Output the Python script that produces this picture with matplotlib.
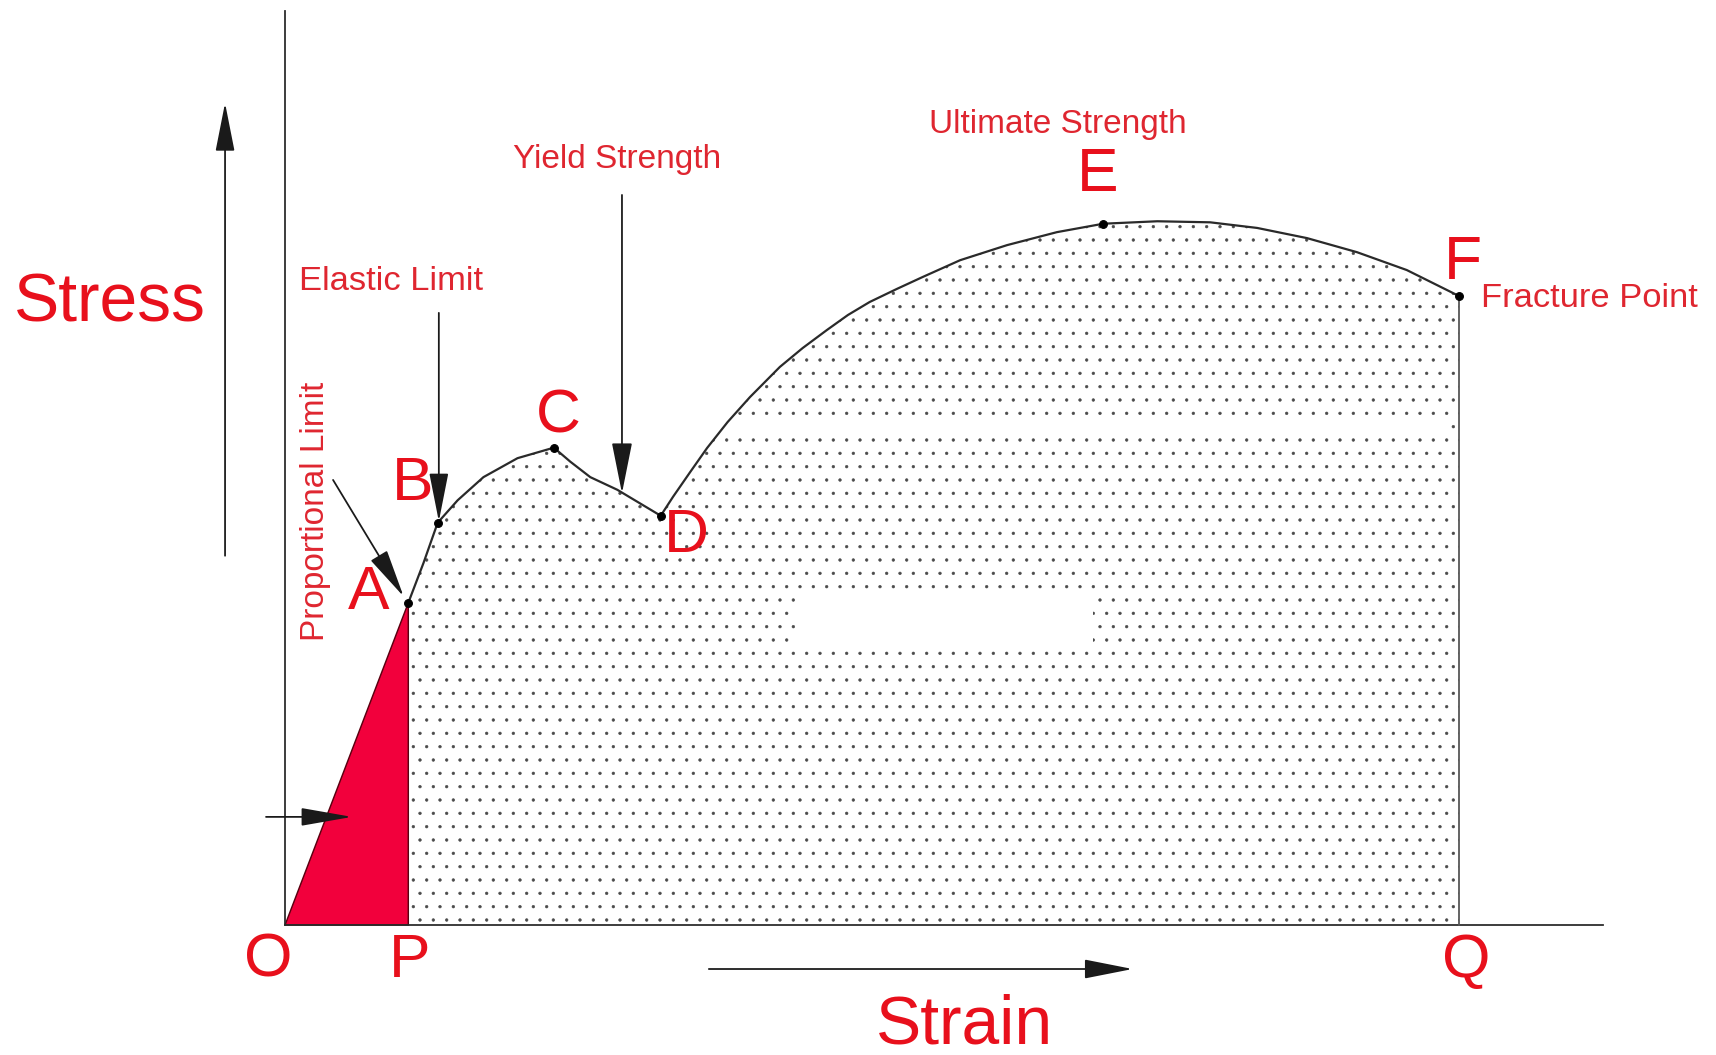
import matplotlib
matplotlib.use("Agg")
import matplotlib.pyplot as plt
from matplotlib.patches import Rectangle

plt.rcParams['font.family'] = ['Liberation Sans', 'DejaVu Sans']
plt.rcParams['hatch.linewidth'] = 0.5

# strain / stress curve (arbitrary units, Q = 100 strain, E ~ 100 stress)
curve_strain = [10.5, 11.8, 13.0, 14.7, 16.9, 19.8, 22.9, 24.3, 26.0, 28.3, 30.0, 32.0,
                33.05, 34.5, 35.95, 37.7, 39.6, 42.15, 44.1, 46.15, 47.95, 49.8, 52.1,
                54.3, 57.5, 61.5, 65.75, 69.7,
                74.3, 78.8, 82.8, 87.05, 91.3, 95.55, 100.0]
curve_stress = [45.9, 51.6, 57.3, 60.5, 63.8, 66.5, 68.0, 66.0, 63.8, 62.0, 60.3, 58.3,
                61.0, 64.5, 67.95, 71.65, 75.2, 79.5, 82.2, 84.75, 86.9, 88.75, 90.6,
                92.3, 94.7, 96.85, 98.7, 99.9,
                100.25, 100.1, 99.3, 97.85, 95.85, 93.3, 89.6]

# named points on the curve
point_names = ["A", "B", "C", "D", "E", "F"]
point_strain = [10.5, 13.0, 22.9, 32.0, 69.7, 100.0]
point_stress = [45.9, 57.3, 68.0, 58.3, 99.9, 89.6]

# elastic region triangle O-A-P
tri_strain = [0.0, 10.5, 10.5]
tri_stress = [0.0, 45.9, 0.0]

RED = '#e8101c'
LABEL_RED = '#df2630'
LINE = '#2a2a2a'

fig = plt.figure(figsize=(1716 / 80, 1055 / 80), dpi=80)
ax = fig.add_axes([0, 0, 1, 1])
ax.set_xlim(-24.28, 121.89)
ax.set_ylim(-18.52, 131.77)
ax.axis('off')

# dotted area under the curve
ax.fill_between(curve_strain, curve_stress, 0, facecolor='white', edgecolor='#4a4a4a',
                hatch='.', linewidth=0, zorder=1)
# erased patches in the original artwork
ax.add_patch(Rectangle((43.6, 40.2), 25.2, 7.2, facecolor='white', edgecolor='none', zorder=2))
ax.add_patch(Rectangle((36.4, 69.4), 62.8, 1.9, facecolor='white', edgecolor='none', zorder=2))

# red elastic triangle
ax.fill(tri_strain, tri_stress, facecolor='#f2003c', edgecolor='#5a0010', linewidth=1.3, zorder=3)

# axes
ax.plot([0, 0], [0, 130.2], color=LINE, lw=1.6, zorder=4)
ax.plot([0, 112.3], [0, 0], color=LINE, lw=1.6, zorder=4)
ax.plot([100, 100], [0, 89.6], color='#555555', lw=1.6, zorder=4)

# curve and points
ax.plot(curve_strain, curve_stress, color=LINE, lw=2.0, zorder=5,
        solid_joinstyle='round')
ax.plot(point_strain, point_stress, 'o', color='black', ms=7, zorder=6)


def arrow(tail, tip, hl=3.8, hw=0.75):
    ax.annotate('', xy=tip, xytext=tail,
                arrowprops=dict(arrowstyle='-|>,head_length={},head_width={}'.format(hl, hw),
                                mutation_scale=10, lw=1.6, color='#1a1a1a',
                                shrinkA=0, shrinkB=0), zorder=7)


arrow((-5.11, 52.6), (-5.11, 117.1))       # stress direction
arrow((36.1, -6.27), (72.2, -6.27))        # strain direction
arrow((13.1, 87.2), (13.1, 57.5))          # elastic limit
arrow((28.7, 104.0), (28.7, 61.5), hl=4.0, hw=0.8)  # yield strength
arrow((4.09, 63.4), (10.1, 46.8))          # proportional limit
arrow((-1.62, 15.4), (5.71, 15.4), hl=4.0, hw=0.7)

# letters
letter_pos = {"A": (7.16, 47.2), "B": (10.9, 62.8), "C": (23.3, 72.4), "D": (34.2, 55.4),
              "E": (69.25, 106.8), "F": (100.3, 94.3)}
for name in point_names:
    x, y = letter_pos[name]
    ax.text(x, y, name, color=RED, fontsize=56, ha='center', va='center', zorder=8)
for name, x in zip(["O", "P", "Q"], [-1.45, 10.65, 100.6]):
    ax.text(x, -5.13, name, color=RED, fontsize=56, ha='center', va='center', zorder=8)

ax.text(-14.9, 85.9, "Stress", color=RED, fontsize=61, ha='center', va='baseline')
ax.text(57.9, -16.9, "Strain", color=RED, fontsize=61, ha='center', va='baseline')

ax.text(65.8, 112.8, "Ultimate Strength", color=LABEL_RED, fontsize=30, ha='center', va='baseline')
ax.text(28.25, 107.8, "Yield Strength", color=LABEL_RED, fontsize=30, ha='center', va='baseline')
ax.text(9.07, 90.5, "Elastic Limit", color=LABEL_RED, fontsize=31, ha='center', va='baseline')
ax.text(101.9, 88.0, "Fracture Point", color=LABEL_RED, fontsize=31, ha='left', va='baseline')
ax.text(2.6, 58.9, "Proportional Limit", color=LABEL_RED, fontsize=30, rotation=90,
        ha='center', va='center')

fig.savefig("out.png", dpi=80, facecolor='white')
